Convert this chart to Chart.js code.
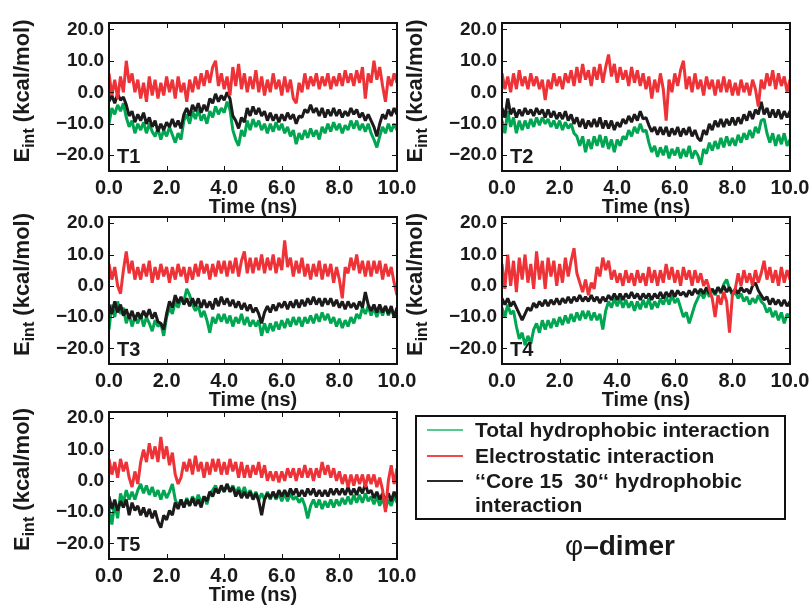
<!DOCTYPE html>
<html><head><meta charset="utf-8">
<script src="https://cdn.jsdelivr.net/npm/chart.js@4.4.1/dist/chart.umd.min.js"></script>
<style>
html,body{margin:0;padding:0;background:#fff;}
#stage{position:relative;width:810px;height:606px;overflow:hidden;background:#fff;}
.panel{position:absolute;}
#legend{position:absolute;left:415px;top:415px;width:367px;height:101px;border:2px solid #111;
 font:bold 21px "Liberation Sans",Arial,Helvetica,sans-serif;color:#1a1a1a;}
.item{position:absolute;left:58px;line-height:24.5px;white-space:pre;}
.swatch{position:absolute;left:10px;width:36px;height:2px;}
#title{position:absolute;left:500px;top:530px;width:240px;text-align:center;
 font:bold 28px "Liberation Sans",Arial,Helvetica,sans-serif;color:#1a1a1a;line-height:32px;}
#title .phi{font-weight:normal;}
</style></head>
<body><div id="stage"></div>
<script>
// ---------------- data (kcal/mol), sampled every 0.1 ns from 0.0 to 10.0 ns ----------------
const TIME_STEP_NS = 0.1;
const X_TICKS = [0, 2, 4, 6, 8, 10];
const Y_TICKS = [-20, -10, 0, 10, 20];
const SERIES_NAMES = ["Total hydrophobic interaction", "Electrostatic interaction", "\u2018\u2018Core 15  30\u2018\u2018 hydrophobic interaction"];
const PANEL_NAMES = ["T1", "T2", "T3", "T4", "T5"];
const X_TITLE = "Time (ns)";

const T1_total = [-10,-5,-7,-4,-6,-3.5,-8,-11,-9,-13,
 -10,-12,-9.5,-13,-10,-12.5,-14,-11.5,-15,-12,
 -14,-11,-13.5,-16,-13,-15,-9,-7,-10,-6,
 -8.5,-5.5,-9,-7,-10,-6,-8,-4.5,-7,-5,
 -6.5,-3,-5.5,-12,-15,-17,-12,-14,-9,-12,
 -8.5,-11,-9,-12,-10,-13,-10,-12.5,-9.5,-12,
 -10,-13,-11,-14,-12,-16.5,-13,-15,-12,-14.5,
 -11.5,-14,-12,-15,-11,-13,-10,-12.5,-9.5,-12,
 -10,-13,-10.5,-12,-9,-11.5,-9,-12,-10,-12.5,
 -10,-13,-15,-17.5,-14,-11,-13,-10,-12.5,-10,
 -12];
const T1_elec = [6,-1,4,-2,5,0,10,3,6,0,
 4,-2,3,-3,5,-1,4,-2,3,-1,
 5,0,4,-2,5,0,3,-3,4,0,
 5,1,6,2,7,3,8,10,2,6,
 1,5,-1,8,2,9,1,6,0,5,
 1,7,0,5,-1,4,0,6,1,4,
 -1,5,0,4,-2,-3.5,3,0,6,1,
 5,2,6,1,5,2,6,1,5,2,
 6,2,7,3,6,2,7,3,8,-2,
 6,3,10,4,8,2,-3,5,2,6,
 3];
const T1_core = [-3,-1,-3.5,-0.5,-2.5,-1.5,-4,-7.5,-6,-9.5,
 -7,-9,-6.5,-10,-8,-11,-9,-12.5,-10,-12,
 -9.5,-11,-8.5,-11,-9,-11.5,-7,-5,-7.5,-4,
 -6,-3.5,-6.5,-4,-6,-2,-3.5,-0.5,-3,-1,
 -2.5,0,-2,-7.5,-9,-11.5,-8,-9.5,-5,-7.5,
 -4.5,-7,-5,-7.5,-6,-9,-6.5,-9,-7,-9.5,
 -7,-9,-6.5,-8.5,-7,-10,-7.5,-8,-5.5,-6.5,
 -4,-6.5,-5,-7.5,-5,-8,-5.5,-7.5,-5,-7.5,
 -5.5,-8,-6,-7.5,-5,-7,-5.5,-8,-6.5,-9,
 -7,-9,-11,-14,-10,-7,-8.5,-5.5,-7.5,-5,
 -7];

const T2_total = [-9,-13,-6,-11,-8,-13,-9,-12,-9,-11.5,
 -8.5,-11,-8,-10.5,-8,-10,-8.5,-11,-9,-11.5,
 -9,-12,-9.5,-11.5,-10,-13,-14,-17,-14,-19,
 -15,-18,-14,-17,-13.5,-17.5,-14,-18,-15,-19,
 -15,-17,-14,-15,-12,-14,-11,-13,-10,-12.5,
 -12,-16,-19,-17,-20.5,-17.5,-20,-17,-21,-18,
 -20,-17.5,-21,-18,-20.5,-17,-21,-18.5,-20,-23,
 -18,-19.5,-16,-18.5,-15.5,-18,-14.5,-17.5,-14,-17,
 -14.5,-17,-13.5,-16,-13,-15,-12,-14.5,-11,-13,
 -9,-8.5,-13,-16,-13,-17,-13.5,-16.5,-13,-17,
 -15];
const T2_elec = [6,1,5,0,6,1,7,2,5,1,
 6,2,5,1,4,-2.5,4,1,6,2,
 5,1,6,3,7,2,8,3,9,4,
 7,2,8,4,9,3,8,12,5,9,
 3,8,4,7,2,8,3,7,2,6,
 1,5,-2,4,0,6,1,-9,4,0,
 6,2,7,10,1,5,0,6,1,4,
 -1,5,1,4,-1,4,0,5,0,4,
 -1,3,-1,4,0,3,-1,4,1,-4.5,
 4,1,6,2,7,1,6,2,5,0,
 4];
const T2_core = [-5,-8,-2,-7,-5,-8,-5.5,-7.5,-5,-7,
 -5.5,-7.5,-5,-7,-5.5,-8,-5.5,-8,-6,-8.5,
 -6.5,-8.5,-6,-9,-7,-10,-8,-11,-8.5,-11.5,
 -9,-11,-8.5,-11,-8,-11.5,-9,-11.5,-9,-12,
 -9.5,-11,-8.5,-10,-7.5,-9.5,-7,-9,-6,-8.5,
 -8,-10.5,-12.5,-11,-13.5,-11,-13.5,-11,-14,-11.5,
 -13.5,-11,-14,-11.5,-13.5,-11,-14,-12,-14.5,-15.5,
 -12,-13.5,-10,-12,-9,-11,-8.5,-11,-8.5,-10.5,
 -8,-10.5,-8,-10,-7,-9,-6,-8.5,-5.5,-7,
 -3,-7,-5,-8,-5.5,-8,-5.5,-8.5,-6,-8,
 -6];

const T3_total = [-14,-6,-10,-5,-9,-7,-12,-9,-13,-10,
 -12,-9,-13,-10,-12,-14.5,-11,-13,-12,-16,
 -10,-7,-9,-5,-7,-4,-5,-1,-3,-6,
 -8,-6.5,-10,-8,-11,-15,-10,-12,-9,-11.5,
 -9,-12,-9.5,-13,-10,-12,-9,-12.5,-10,-13,
 -11,-13,-11,-16,-12,-15,-12,-14.5,-11.5,-14,
 -11,-13.5,-10.5,-13,-10,-12.5,-10,-13,-10,-12,
 -9.5,-12,-9,-11.5,-8.5,-11,-9,-12,-10,-13,
 -10.5,-13.5,-11,-13,-10,-12,-9,-10.5,-7,-9,
 -6.5,-9.5,-7,-10,-7,-9.5,-6.5,-9.5,-7,-10,
 -8];
const T3_elec = [7,2,6,0,-2.5,5,11,4,8,2,
 6,2,7,3,8,1,6,2,7,3,
 6,1,6,2,7,3,6,1,6,2,
 7,3,8,4,7,2,7,3,8,4,
 8,3,8,4,9,3,8,11,4,9,
 4,9,5,10,4,9,5,10,4,9,
 5,14.5,6,9,3,8,4,9,3,7,
 2,7,3,8,2,7,3,7,1,6,
 2,-4,6,4,9,5,10,4,8,3,
 8,3,8,4,8,2,7,3,6,1,
 -3];
const T3_core = [-6,-9,-5,-8.5,-6,-9.5,-7.5,-10.5,-8,-11,
 -8.5,-10.5,-8,-10,-7.5,-10.5,-8.5,-11.5,-12,-14,
 -9,-5,-7,-3,-5.5,-3.5,-6,-4,-6.5,-4,
 -6.5,-4,-7,-4.5,-7,-5,-7.5,-4,-6.5,-3.5,
 -6,-4,-6.5,-4.5,-7,-5,-7.5,-5.5,-8,-6,
 -8.5,-7,-9,-12,-8.5,-6.5,-8.5,-6,-8,-5.5,
 -7,-5,-7.5,-5,-7,-4.5,-7,-4.5,-6.5,-4,
 -6,-3.5,-6,-4,-6.5,-4,-6,-4,-6.5,-4.5,
 -7,-5,-7.5,-5,-7,-5.5,-7.5,-5,-7,-2,
 -6,-8,-6,-8.5,-6,-8.5,-6.5,-9,-6.5,-10,
 -7];

const T4_total = [-7,-10,-6,-9,-8,-13,-17,-15,-19,-16,
 -18.5,-14,-12,-15,-11,-14,-11,-13.5,-10.5,-13,
 -10,-12.5,-9.5,-12,-9,-11.5,-8.5,-11,-8,-10.5,
 -8,-11,-8.5,-11,-9,-14,-8,-5,-7,-4,
 -6.5,-4,-7,-4.5,-7,-5,-8,-5,-7.5,-4.5,
 -7,-4,-7.5,-5,-7,-4,-6,-3.5,-6,-3,
 -5.5,-4,-7,-10,-8.5,-12,-9,-6,-4,-2,
 -4,-1.5,-3.5,-1,-3,-0.5,-2.5,0.5,2,-1,
 -3,-2,-4,-2.5,-5,-3.5,-6,-4,-5.5,-3,
 -5,-6,-8.5,-7,-10,-8,-11,-8.5,-12,-9,
 -10];
const T4_elec = [7,-1,10,0,8,-2,9,2,10,1,
 7,-1,11,2,8,-1,9,3,8,0,
 7,1,9,3,8,12,4,1,-2,2,
 -3,1,-1,6,3,9,5,8,2,5,
 1,4,0,5,1,4,0,5,1,4,
 0,6,1,5,0,5,1,7,2,6,
 1,5,0,6,2,5,0,5,1,4,
 0,2,-1,-4,-10,-3,-6,-2,-5,-15,
 -3,-1,4,0,5,1,4,0,5,1,
 4,8,2,6,1,5,0,6,1,5,
 2];
const T4_core = [-4,-6,-4,-6.5,-5,-7,-9,-11,-9,-7,
 -8,-5.5,-7,-5,-6.5,-4.5,-6.5,-4.5,-6,-4,
 -6,-4,-5.5,-3.5,-5.5,-3.5,-5,-3,-5,-3.5,
 -5,-3,-5,-3.5,-5.5,-3.5,-5,-3,-4.5,-2.5,
 -4.5,-2.5,-4.5,-2.5,-4,-2,-4,-2.5,-4.5,-2.5,
 -4,-2.5,-4.5,-2.5,-4,-2,-4,-2,-3.5,-1.5,
 -3.5,-1.5,-3,-2,-3.5,-1.5,-3,-1,-2.5,-1,
 -2.5,-0.5,-2.5,-1,-2.5,-0.5,-2,0,-2,-0.5,
 -2.5,-1,-2.5,-0.5,-2,-1,-2.5,0,1,-1.5,
 -3,-4.5,-3.5,-6,-4,-6,-4.5,-6.5,-4.5,-6.5,
 -5];

const T5_total = [-9,-14,-7,-12,-4,-7,-3,-6,-3.5,-6,
 -3,-1,-4,-1.5,-4.5,-2,-5,-3,-6,-3,
 -5.5,-3.5,-1,-6,-8,-6,-8.5,-5.5,-8,-5,
 -7,-4.5,-7,-5,-7.5,-4,-3,-1.5,-4,-2,
 -3.5,-1,-3.5,-1.5,-4,-2,-4.5,-2,-5,-3,
 -5.5,-3.5,-6,-4,-6,-3.5,-6,-3.5,-6,-4,
 -6.5,-4,-6.5,-4,-6,-5,-7,-5.5,-8,-12,
 -8,-6,-8.5,-6,-9,-6.5,-8.5,-6,-8.5,-6,
 -8,-5.5,-7.5,-5,-7.5,-4.5,-7,-4.5,-7,-4,
 -6.5,-5,-7.5,-5,-8,-5.5,-9,-6,-8,-5,
 -7];
const T5_elec = [7,2,6,1,7,3,6,1,-2,3,
 -1,6,10,6,12,7,11,6,14,7,
 11,5,9,2,-1,1,6,3,7,2,
 8,3,6,1,6,2,7,3,7,2,
 6,2,7,3,6,1,6,1,5,1,
 5,2,6,1,5,0,3,0,3,-0.5,
 3,0,4,1,4,0,4,1,5,1,
 4,0,4,1,6,2,5,1,4,0,
 3,-1,2,-2,2,-1.5,2,-1,2,-2,
 2,-1,2,-2,1,-3,-10,0,5,-1,
 4];
const T5_core = [-5,-9,-6,-9.5,-6.5,-8.5,-6,-11,-7,-9.5,
 -8,-11,-8.5,-11.5,-9,-12,-9.5,-13,-15,-11,
 -12.5,-9.5,-11,-7,-9,-6,-8.5,-6,-8,-5.5,
 -8,-6,-8.5,-5,-6.5,-3.5,-5,-2.5,-4,-1.5,
 -3.5,-1,-3.5,-2,-5,-3,-5.5,-3.5,-5.5,-3.5,
 -6,-4,-6.5,-11,-6,-4,-5.5,-3.5,-5.5,-3,
 -5,-3,-5,-2.5,-4.5,-2.5,-5,-3,-5,-2.5,
 -4.5,-2.5,-5,-3,-5,-3,-5,-2.5,-4.5,-2.5,
 -4.5,-2.5,-4.5,-2,-4.5,-2.5,-4.5,-2,-4,-1,
 -4,-3,-5.5,-3.5,-6,-4,-6.5,-4,-6.5,-3.5,
 -5.5];

// ---------------- styling / layout ----------------
const COLORS = {total: "#00a651", elec: "#ee3338", core: "#1c1a1b"};
const LEGEND_COLORS = ["#55c98e", "#f04848", "#2a2a2a"];
const FONT = '"Liberation Sans", Arial, Helvetica, sans-serif';
const PANEL_BOXES = [
  {left:109, top:23,  w:288, h:148},
  {left:502, top:23,  w:288, h:148},
  {left:109, top:217, w:288, h:147},
  {left:502, top:217, w:288, h:147},
  {left:109, top:412, w:288, h:147}
];
const PANEL_DATA = [
  [T1_total, T1_elec, T1_core],
  [T2_total, T2_elec, T2_core],
  [T3_total, T3_elec, T3_core],
  [T4_total, T4_elec, T4_core],
  [T5_total, T5_elec, T5_core]
];
const YW = 100, XH = 48, PADT = 10, PADR = 25;
const LINE_W = 3;

Chart.defaults.animation = false;

function toPoints(arr){ return arr.map((v,i)=>({x: Math.round(i*TIME_STEP_NS*10)/10, y: v})); }

const decor = {
  id: 'decor',
  afterDraw(chart, args, opts){
    const {ctx, chartArea:a, scales:{x, y}} = chart;
    ctx.save();
    ctx.strokeStyle = '#111';
    ctx.lineWidth = 1;
    ctx.beginPath();
    Y_TICKS.forEach(v => {
      const py = Math.round(y.getPixelForValue(v)) + 0.5;
      ctx.moveTo(a.left, py); ctx.lineTo(a.left + 5, py);
      ctx.moveTo(a.right, py); ctx.lineTo(a.right - 5, py);
    });
    X_TICKS.forEach(v => {
      const px = Math.round(x.getPixelForValue(v)) + 0.5;
      ctx.moveTo(px, a.bottom); ctx.lineTo(px, a.bottom - 5);
      ctx.moveTo(px, a.top); ctx.lineTo(px, a.top + 5);
    });
    ctx.stroke();
    ctx.lineWidth = 2;
    ctx.strokeRect(a.left, a.top, a.right - a.left, a.bottom - a.top);

    ctx.fillStyle = '#1a1a1a';
    ctx.font = 'bold 20px ' + FONT;
    ctx.textBaseline = 'middle';
    ctx.textAlign = 'left';
    ctx.fillText(opts.label, a.left + 8, a.bottom - 14);

    ctx.textAlign = 'center';
    ctx.fillText(X_TITLE, (a.left + a.right) / 2, a.bottom + 36);

    // rotated y title with subscript
    ctx.translate(a.left - 86, (a.top + a.bottom) / 2 - 6);
    ctx.rotate(-Math.PI / 2);
    ctx.textAlign = 'left';
    const big = 'bold 22px ' + FONT, small = 'bold 16px ' + FONT;
    const p1 = 'E', p2 = 'int', p3 = ' (kcal/mol)';
    ctx.font = big; const w1 = ctx.measureText(p1).width, w3 = ctx.measureText(p3).width;
    ctx.font = small; const w2 = ctx.measureText(p2).width;
    let sx = -(w1 + w2 + w3) / 2;
    ctx.font = big; ctx.fillText(p1, sx, 0);
    ctx.font = small; ctx.fillText(p2, sx + w1, 7);
    ctx.font = big; ctx.fillText(p3, sx + w1 + w2, 0);
    ctx.restore();
  }
};

const stage = document.getElementById('stage');
PANEL_BOXES.forEach((box, k) => {
  const div = document.createElement('div');
  div.className = 'panel';
  div.style.left = (box.left - YW) + 'px';
  div.style.top = (box.top - PADT) + 'px';
  div.style.width = (YW + box.w + PADR) + 'px';
  div.style.height = (PADT + box.h + XH) + 'px';
  const cv = document.createElement('canvas');
  div.appendChild(cv);
  stage.appendChild(div);
  const [tot, ele, cor] = PANEL_DATA[k];
  const common = {borderWidth: LINE_W, pointRadius: 0, borderJoinStyle: 'bevel'};
  new Chart(cv, {
    type: 'line',
    data: {
      datasets: [
        Object.assign({label: SERIES_NAMES[0], data: toPoints(tot), borderColor: COLORS.total, order: 2}, common),
        Object.assign({label: SERIES_NAMES[2], data: toPoints(cor), borderColor: COLORS.core, order: 1}, common),
        Object.assign({label: SERIES_NAMES[1], data: toPoints(ele), borderColor: COLORS.elec, order: 0}, common)
      ]
    },
    options: {
      responsive: true,
      maintainAspectRatio: false,
      layout: {padding: {left: 0, top: PADT, right: PADR, bottom: 0}},
      plugins: {legend: {display: false}, tooltip: {enabled: false}, decor: {label: PANEL_NAMES[k]}},
      scales: {
        x: {
          type: 'linear', min: 0, max: 10,
          grid: {display: false, drawTicks: false},
          border: {display: false},
          afterBuildTicks: s => { s.ticks = X_TICKS.map(v => ({value: v})); },
          afterFit: s => { s.height = XH; s.paddingLeft = 0; s.paddingRight = 0; },
          ticks: {autoSkip: false, maxRotation: 0, padding: 5, color: '#1a1a1a',
                  font: {family: FONT, size: 20, weight: 'bold'},
                  callback: v => v.toFixed(1)}
        },
        y: {
          type: 'linear', min: -25, max: 22,
          grid: {display: false, drawTicks: false},
          border: {display: false},
          afterBuildTicks: s => { s.ticks = Y_TICKS.map(v => ({value: v})); },
          afterFit: s => { s.width = YW; s.paddingTop = 0; s.paddingBottom = 0; },
          ticks: {padding: 5, color: '#1a1a1a',
                  font: {family: FONT, size: 19, weight: 'bold'},
                  callback: v => (v < 0 ? '\u2212' : '') + Math.abs(v).toFixed(1)}
        }
      }
    },
    plugins: [decor]
  });
});

// legend (HTML, built from the series names/colours)
const lg = document.createElement('div');
lg.id = 'legend';
const rowTops = [0.5, 26.5, 51.5];
const legendTexts = [SERIES_NAMES[0], SERIES_NAMES[1], "\u2018\u2018Core 15  30\u2018\u2018 hydrophobic\ninteraction"];
legendTexts.forEach((t, i) => {
  const sw = document.createElement('div');
  sw.className = 'swatch';
  sw.style.top = (rowTops[i] + 11.5) + 'px';
  sw.style.background = LEGEND_COLORS[i];
  lg.appendChild(sw);
  const it = document.createElement('div');
  it.className = 'item';
  it.style.top = rowTops[i] + 'px';
  it.textContent = t;
  lg.appendChild(it);
});
stage.appendChild(lg);

const ttl = document.createElement('div');
ttl.id = 'title';
ttl.innerHTML = '<span class="phi">\u03c6</span>\u2013dimer';
stage.appendChild(ttl);
</script>
</body></html>
